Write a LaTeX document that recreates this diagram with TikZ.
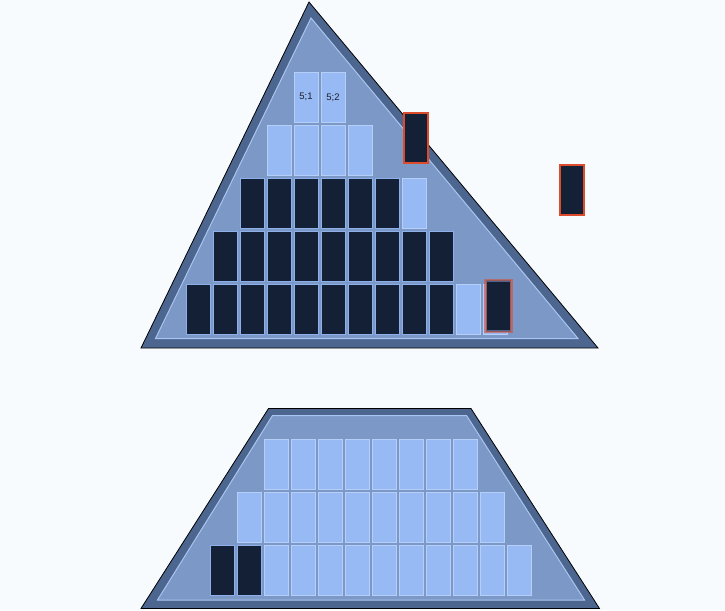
\documentclass[tikz,border=0pt]{standalone}
\usepackage{fontspec}
\setmainfont{Liberation Sans}
\definecolor{bgc}{HTML}{F7FBFD}
\definecolor{roofout}{HTML}{4C6690}
\definecolor{roofin}{HTML}{7C98C6}
\definecolor{roofline}{HTML}{A9C6F2}
\definecolor{lightp}{HTML}{97BAF4}
\definecolor{lightline}{HTML}{B5CFF8}
\definecolor{darkp}{HTML}{142036}
\definecolor{darkline}{HTML}{8DB0EA}
\definecolor{redb}{HTML}{DC4B2B}
\definecolor{textc}{HTML}{1E1E28}
\begin{document}
\begin{tikzpicture}[x=1pt,y=-1pt,
  panel/.style={rectangle,minimum width=24pt,minimum height=50pt,inner sep=0pt,line width=0.9pt},
  lightpanel/.style={panel,fill=lightp,draw=lightline,text=textc,font=\fontsize{9.5}{10}\selectfont},
  darkpanel/.style={panel,fill=darkp,draw=darkline},
  redpanel/.style={panel,fill=darkp,draw=redb,line width=2pt},
  outerroof/.style={fill=roofout,draw=black,line width=0.8pt,line join=miter},
  innerroof/.style={fill=roofin,draw=roofline,line width=1pt}]
\fill[bgc] (0,0) rectangle (725,610);
\useasboundingbox (0,0) rectangle (725,610);
% triangle roof
\draw[outerroof] (309,2) -- (598,348) -- (141,348) -- cycle;
\draw[innerroof] (311,18) -- (578,338.5) -- (155.5,338.5) -- cycle;
% trapezoid roof
\draw[outerroof] (268.5,408.5) -- (471,408.5) -- (599.5,608.5) -- (141,608.5) -- cycle;
\draw[innerroof] (272.5,415.5) -- (466.5,415.5) -- (584.5,600) -- (157.5,600) -- cycle;
% triangle rows
\foreach \k in {0,...,9} \node[darkpanel] (ta\k) at (198+27*\k,309) {};
\node[lightpanel] (ta10) at (468,309) {};
\node[lightpanel] (ta11) at (495,309) {};
\foreach \k in {0,...,8} \node[darkpanel] (tb\k) at (225+27*\k,256.5) {};
\foreach \k in {0,...,5} \node[darkpanel] (tc\k) at (252+27*\k,203.5) {};
\node[lightpanel] (tc6) at (414,203.5) {};
\foreach \k in {0,...,3} \node[lightpanel] (td\k) at (279+27*\k,150.3) {};
\node[lightpanel] (te0) at (306,97.3) {5;1};
\node[lightpanel] (te1) at (333,97.3) {5;2};
% moved panels
\node[redpanel] (m1) at (415.5,138) {};
\node[redpanel] (m2) at (572.3,190.3) {};
\node[panel,fill=darkp,draw=roofout,line width=1.2pt] (m3) at (498.5,306) {};
\node[panel,draw=redb,draw opacity=0.55,line width=2.2pt,minimum width=26pt,minimum height=52pt] (m3r) at (498.5,306) {};
% trapezoid rows
\foreach \k in {0,...,7} \node[lightpanel] (pa\k) at (276+27*\k,464.3) {};
\foreach \k in {0,...,9} \node[lightpanel] (pb\k) at (249+27*\k,517.3) {};
\foreach \k in {0,1} \node[darkpanel] (pc\k) at (222+27*\k,570.3) {};
\foreach \k in {2,...,11} \node[lightpanel] (pc\k) at (222+27*\k,570.3) {};
\end{tikzpicture}
\end{document}
